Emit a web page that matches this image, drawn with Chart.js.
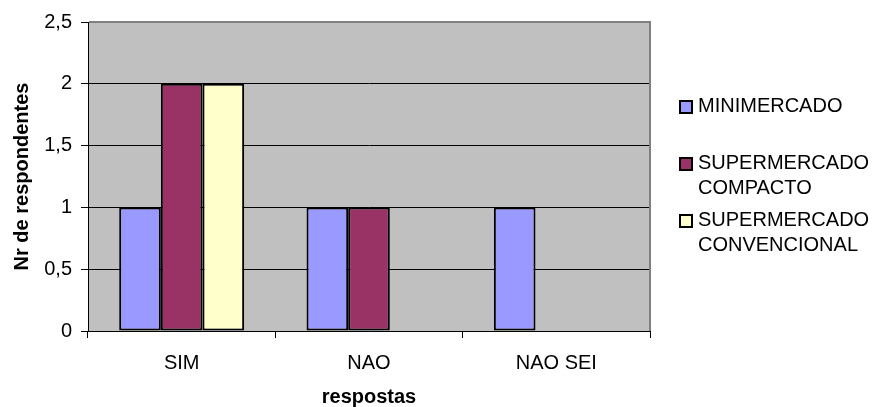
<!DOCTYPE html>
<html>
<head>
<meta charset="utf-8">
<script src="https://cdn.jsdelivr.net/npm/chart.js@4/dist/chart.umd.min.js"></script>
<style>
  html, body { margin: 0; padding: 0; background: #ffffff; }
  canvas { display: block; }
</style>
</head>
<body>
<canvas id="chart" width="880" height="407"></canvas>
<script>
// Respostas por tipo de loja
const categories = ['SIM', 'NAO', 'NAO SEI'];
const seriesNames = ['MINIMERCADO', 'SUPERMERCADO COMPACTO', 'SUPERMERCADO CONVENCIONAL'];
const minimercado = [1, 1, 1];
const supermercadoCompacto = [2, 1, 0];
const supermercadoConvencional = [2, 0, 0];
const yTickLabels = ['0', '0,5', '1', '1,5', '2', '2,5'];

const seriesColors = ['#9999FF', '#993366', '#FFFFCC'];
const FONT = "'Liberation Sans', Arial, sans-serif";

// Gray plot background plus the gray frame on top and right
const plotFrame = {
  id: 'plotFrame',
  beforeDraw(chart) {
    const { ctx, chartArea: a } = chart;
    ctx.save();
    ctx.fillStyle = '#C0C0C0';
    ctx.fillRect(a.left, a.top, a.right - a.left, a.bottom - a.top);
    ctx.restore();
  },
  afterDraw(chart) {
    const { ctx, chartArea: a } = chart;
    ctx.save();
    ctx.strokeStyle = '#808080';
    ctx.lineWidth = 2;
    ctx.beginPath();
    ctx.moveTo(a.left + 1, a.top);
    ctx.lineTo(a.right, a.top);
    ctx.lineTo(a.right, a.bottom);
    ctx.stroke();
    ctx.restore();
  }
};

// Legend on the right, long names wrapped one word per line
const sideLegend = {
  id: 'sideLegend',
  afterDraw(chart) {
    const { ctx } = chart;
    const x = 680, pitch = 57, firstY = 106, lineH = 25;
    ctx.save();
    ctx.font = '20px ' + FONT;
    ctx.textBaseline = 'middle';
    ctx.textAlign = 'left';
    chart.data.datasets.forEach((ds, i) => {
      const y = firstY + i * pitch;
      ctx.fillStyle = ds.backgroundColor;
      ctx.fillRect(x, y - 5, 12, 12);
      ctx.strokeStyle = '#000';
      ctx.lineWidth = 2;
      ctx.strokeRect(x, y - 5, 12, 12);
      ctx.fillStyle = '#000';
      ds.label.split(' ').forEach((w, j) => ctx.fillText(w, x + 18, y + j * lineH));
    });
    ctx.restore();
  }
};

const seriesData = [minimercado, supermercadoCompacto, supermercadoConvencional];

new Chart(document.getElementById('chart'), {
  type: 'bar',
  data: {
    labels: categories,
    datasets: seriesData.map((d, i) => ({
      label: seriesNames[i],
      data: d,
      backgroundColor: seriesColors[i],
      borderColor: '#000000',
      borderWidth: 2,
      borderSkipped: false,
      categoryPercentage: 0.667,
      barPercentage: 1.0
    }))
  },
  options: {
    responsive: false,
    animation: false,
    devicePixelRatio: 1,
    layout: { padding: { top: 22, right: 230, bottom: 0, left: 0 } },
    plugins: { legend: { display: false }, tooltip: { enabled: false } },
    scales: {
      x: {
        grid: { display: true, drawOnChartArea: false, drawTicks: true, tickLength: 7, color: '#000', lineWidth: 1, offset: true },
        border: { display: true, color: '#000', width: 1 },
        ticks: { color: '#000', font: { size: 20, family: FONT }, padding: 13, maxRotation: 0 },
        title: { display: true, text: 'respostas', color: '#000', font: { size: 20, weight: 'bold', family: FONT, lineHeight: 1 }, padding: { top: 4, bottom: 0 } },
        afterFit(s) { s.height = 76; }
      },
      y: {
        min: 0,
        max: 2.5,
        ticks: {
          stepSize: 0.5,
          color: '#000',
          font: { size: 20, family: FONT },
          padding: 9,
          callback: (v, i) => yTickLabels[i]
        },
        grid: { color: c => (c.index === 5 ? '#808080' : '#000'), tickColor: '#000', tickLength: 7, lineWidth: 1 },
        border: { display: true, color: '#000', width: 1 },
        title: { display: true, text: 'Nr de respondentes', color: '#000', font: { size: 20, weight: 'bold', family: FONT }, padding: { top: 10, bottom: 4 } },
        afterFit(s) { s.width = 88; }
      }
    }
  },
  plugins: [plotFrame, sideLegend]
});
</script>
</body>
</html>
